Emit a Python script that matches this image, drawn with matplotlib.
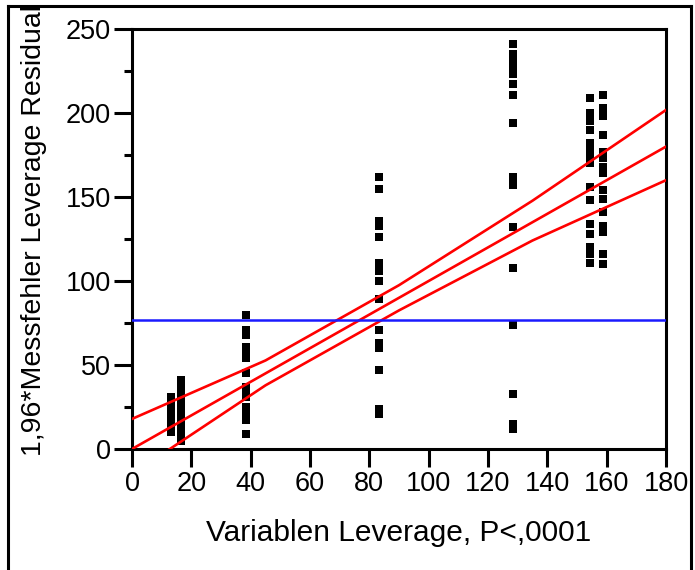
import matplotlib
matplotlib.use("Agg")
import matplotlib.pyplot as plt
from matplotlib.lines import Line2D

plt.rcParams['font.family'] = ['Liberation Sans', 'DejaVu Sans']

# ---- data ----
x_groups = [13.1, 16.5, 38.5, 83.2, 128.4, 154.4, 158.8]
y_13 = [31, 28, 24, 21, 19, 17, 15, 12, 10]
y_16 = [41, 38, 35, 32, 29, 26, 23, 20, 17, 14, 11, 8, 5]
y_38 = [80, 71, 68, 61, 57, 54, 45, 37, 34, 31, 25, 21, 17, 9]
y_83 = [162, 155, 136, 135, 133, 126, 111, 106, 100, 89, 71, 63, 60, 47, 24, 21]
y_128 = [241, 235, 231, 227, 223, 217, 211, 194, 162, 157, 132, 108, 74, 33, 15, 12]
y_154 = [209, 200, 195, 190, 182, 178, 174, 170, 156, 148, 134, 128, 120, 116, 111]
y_158 = [211, 203, 198, 187, 177, 173, 168, 164, 154, 149, 141, 133, 129, 116, 110]
y_groups = [y_13, y_16, y_38, y_83, y_128, y_154, y_158]

fit_x = [0, 180]
fit_y = [0, 180]
ci_x = [0, 45, 90, 135, 180]
ci_upper = [17.9, 52.7, 97.5, 147.8, 201.8]
ci_lower = [-15.0, 37.9, 82.5, 124.1, 160.0]
mean_y = 77

x_ticks = [0, 20, 40, 60, 80, 100, 120, 140, 160, 180]
y_ticks = [0, 50, 100, 150, 200, 250]
y_minor = [25, 75, 125, 175, 225]

W, H = 695, 570
fig = plt.figure(figsize=(W / 100, H / 100), dpi=100)
ax = fig.add_axes([132 / W, 1 - 449 / H, (666 - 132) / W, (449 - 29) / H])

for xg, ys in zip(x_groups, y_groups):
    ax.plot([xg] * len(ys), ys, linestyle='none', marker='s', ms=5.4,
            color='black', mew=0, clip_on=False, zorder=2)

ax.plot(ci_x, ci_upper, color='#ff0000', lw=1.9, zorder=3)
ax.plot(ci_x, ci_lower, color='#ff0000', lw=1.9, zorder=3)
ax.plot(fit_x, fit_y, color='#ff0000', lw=1.9, zorder=3)
ax.axhline(mean_y, color='#1a1aff', lw=1.8, zorder=3)

ax.set_xlim(0, 180)
ax.set_ylim(0, 250)
ax.set_xticks(x_ticks)
ax.set_yticks(y_ticks)
ax.set_yticks(y_minor, minor=True)
ax.tick_params(axis='both', which='major', direction='out', length=13, width=2.2,
               labelsize=19.5, color='black')
ax.tick_params(axis='x', pad=3)
ax.tick_params(axis='y', pad=2)
ax.tick_params(axis='y', which='minor', direction='out', length=6, width=2.2)
for s in ax.spines.values():
    s.set_linewidth(2.2)

fig.text(399 / W, 1 - 541 / H, 'Variablen Leverage, P<,0001', ha='center',
         va='baseline', fontsize=21.5)
fig.text(34 / W, 1 - 456 / H, '1,96*Messfehler Leverage Residual', ha='center',
         va='bottom', rotation=90, fontsize=20.5)

# outer frame
lw = 2.2
fig.add_artist(Line2D([8 / W, 8 / W], [0, 1 - 6 / H], transform=fig.transFigure,
                      color='black', lw=lw))
fig.add_artist(Line2D([8 / W, 691 / W], [1 - 6 / H, 1 - 6 / H], transform=fig.transFigure,
                      color='black', lw=lw))
fig.add_artist(Line2D([691 / W, 691 / W], [0, 1 - 6 / H], transform=fig.transFigure,
                      color='black', lw=lw))

fig.savefig('out.png', dpi=100)
